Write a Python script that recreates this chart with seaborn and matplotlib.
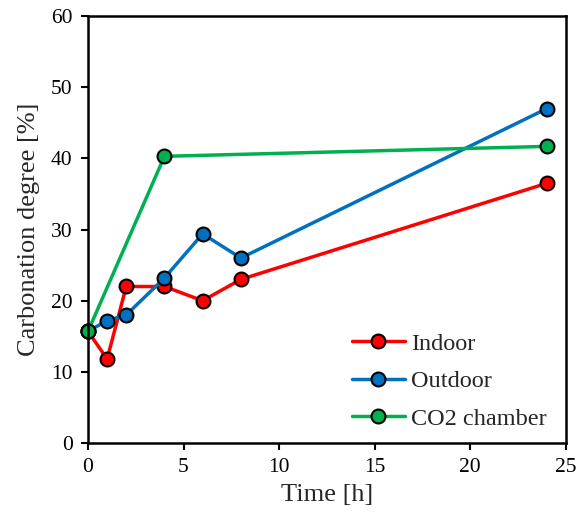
import matplotlib
matplotlib.use("Agg")
import matplotlib.pyplot as plt
import seaborn as sns
import pandas as pd

time_indoor = [0, 1, 2, 4, 6, 8, 24]
indoor = [15.7, 11.8, 22.0, 22.0, 20.0, 23.0, 36.5]
time_outdoor = [0, 1, 2, 4, 6, 8, 24]
outdoor = [15.7, 17.2, 18.0, 23.2, 29.4, 26.0, 47.0]
time_co2 = [0, 4, 24]
co2 = [15.7, 40.3, 41.7]
series_names = ["Indoor", "Outdoor", "CO2 chamber"]
colors = ["#FF0000", "#0070C0", "#00B050"]

rows = []
for name, t, v in zip(series_names, [time_indoor, time_outdoor, time_co2], [indoor, outdoor, co2]):
    for ti, vi in zip(t, v):
        rows.append({"Time": ti, "Value": vi, "Series": name})
df = pd.DataFrame(rows)

sns.set_style("ticks")
plt.rcParams["font.family"] = ["Liberation Serif", "DejaVu Serif"]

fig = plt.figure(figsize=(5.77, 5.23), dpi=100)
ax = fig.add_axes([0.1525, 0.153, 0.828, 0.816])

sns.lineplot(data=df, x="Time", y="Value", hue="Series", hue_order=series_names,
             palette=colors, marker="o", markersize=10, markeredgecolor="black",
             markeredgewidth=1.5, linewidth=2.5, ax=ax, sort=False, estimator=None)

ax.set_xlim(0, 25)
ax.set_ylim(0, 60)
ax.set_xticks([0, 5, 10, 15, 20, 25])
ax.set_yticks([0, 10, 20, 30, 40, 50, 60])
ax.tick_params(direction="out", length=5, width=1.5, labelsize=15.5, colors="black", pad=6)
for s in ax.spines.values():
    s.set_linewidth(1.8)
    s.set_color("black")
    s.set_visible(True)
ax.set_xlabel("Time [h]", fontsize=19, labelpad=5)
ax.set_ylabel("Carbonation degree [%]", fontsize=19, labelpad=8)

leg = ax.legend(loc="lower right", bbox_to_anchor=(1.006, -0.02), frameon=False,
                fontsize=17.5, handlelength=2.2, handletextpad=0.25, labelspacing=0.64)
for line in ax.lines:
    line.set_clip_on(False)

fig.savefig("out.png", dpi=100)
